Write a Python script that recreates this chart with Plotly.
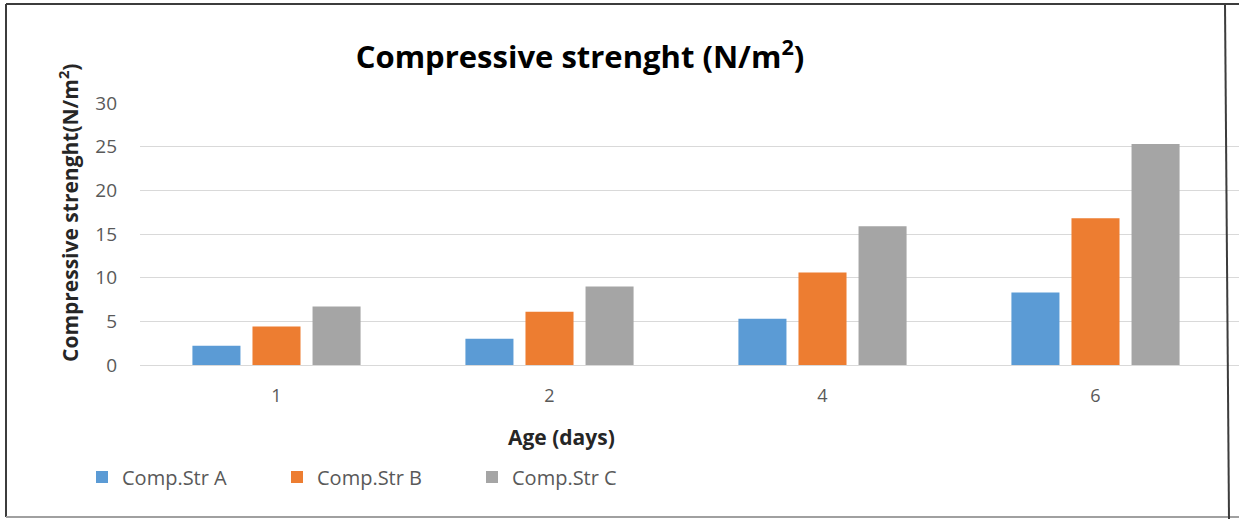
import plotly.graph_objects as go

# Curing age (days) and compressive strength of the three mixes
ages = ["1", "2", "4", "6"]
comp_str_a = [2.2, 3.0, 5.3, 8.3]
comp_str_b = [4.4, 6.1, 10.6, 16.8]
comp_str_c = [6.7, 9.0, 15.9, 25.3]
series_names = ["Comp.Str A", "Comp.Str B", "Comp.Str C"]
series_colors = ["#5B9BD5", "#ED7D31", "#A5A5A5"]
y_ticks = [0, 5, 10, 15, 20, 25, 30]

W, H = 1239, 519
ML, MR, MT, MB = 140, 0, 103, 154
PW, PH = W - ML - MR, H - MT - MB

FONT = "'Open Sans', sans-serif"
TICK_COLOR = "#595959"
GRID_COLOR = "#D9D9D9"


def px_x(px):
    return (px - ML) / PW


def px_y(py):
    return (H - MB - py) / PH


fig = go.Figure()
for name, vals, col in zip(series_names, [comp_str_a, comp_str_b, comp_str_c], series_colors):
    fig.add_trace(go.Bar(x=ages, y=vals, name=name, marker_color=col,
                         marker_line_width=0))

# chart frame
frame = dict(type="line", xref="paper", yref="paper")
fig.add_shape(**frame, x0=px_x(6), x1=px_x(W), y0=px_y(4), y1=px_y(4),
              line=dict(color="#3C3C3C", width=2))
fig.add_shape(**frame, x0=px_x(6), x1=px_x(6), y0=px_y(4), y1=px_y(517),
              line=dict(color="#3C3C3C", width=2))
fig.add_shape(**frame, x0=px_x(6), x1=px_x(W), y0=px_y(517), y1=px_y(517),
              line=dict(color="#A0A0A0", width=2))
fig.add_shape(**frame, x0=px_x(1225), x1=px_x(1229), y0=px_y(4), y1=px_y(519),
              line=dict(color="#3C3C3C", width=2))

fig.update_layout(
    width=W, height=H,
    margin=dict(l=ML, r=MR, t=MT, b=MB),
    paper_bgcolor="white", plot_bgcolor="white",
    barmode="group", bargap=0.34, bargroupgap=0.2,
    font=dict(family=FONT, color=TICK_COLOR, size=18),
    title=dict(text="<b>Compressive strenght (N/m<sup>2</sup>)</b>",
               x=580 / W, xanchor="center", xref="container",
               y=1 - 57 / H, yanchor="middle", yref="container",
               font=dict(family=FONT, size=31, color="black")),
    xaxis=dict(range=[-0.5, -0.5 + PW / 273], showgrid=False,
               showline=False, ticks="", zeroline=False,
               ticklabelstandoff=18,
               tickfont=dict(size=18, color=TICK_COLOR)),
    yaxis=dict(range=[0, 30], tickvals=y_ticks, showgrid=True,
               gridcolor=GRID_COLOR, gridwidth=1, zeroline=True,
               zerolinecolor=GRID_COLOR, zerolinewidth=1, ticks="",
               ticklabelstandoff=22,
               tickfont=dict(size=19, color=TICK_COLOR)),
    legend=dict(orientation="h", x=px_x(82), y=px_y(477), xanchor="left",
                yanchor="middle", xref="paper", yref="paper",
                entrywidth=150, entrywidthmode="pixels",
                font=dict(size=20, color=TICK_COLOR), itemwidth=30),
    showlegend=True,
)

# axis titles
fig.add_annotation(text="<b>Compressive strenght(N/m<sup>2</sup>)</b>",
                   xref="paper", yref="paper", x=px_x(68), y=px_y(213),
                   xanchor="center", yanchor="middle",
                   textangle=-90, showarrow=False,
                   font=dict(family=FONT, size=21, color="#262626"))
fig.add_annotation(text="<b>Age (days)</b>",
                   xref="paper", yref="paper", x=px_x(561), y=px_y(437),
                   xanchor="center", yanchor="middle",
                   showarrow=False,
                   font=dict(family=FONT, size=21, color="#262626"))

fig.write_html("out.html")
